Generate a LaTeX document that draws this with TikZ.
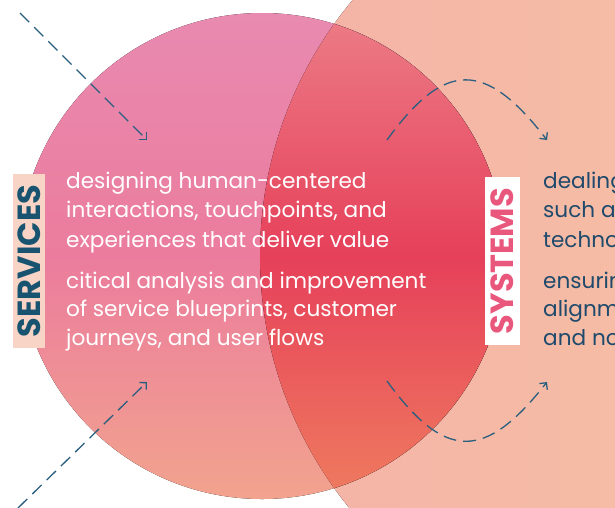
\documentclass[tikz,border=0pt]{standalone}
\usepackage{fontspec}
\setmainfont{Poppins}
\usetikzlibrary{arrows.meta}
\definecolor{peachL}{HTML}{F4B3A8}
\definecolor{peachR}{HTML}{F8C7A1}
\definecolor{pinkT}{HTML}{E98AB0}
\definecolor{pinkM}{HTML}{EB7C9D}
\definecolor{pinkB}{HTML}{F2A38E}
\definecolor{lensT}{HTML}{EC7C86}
\definecolor{lensM}{HTML}{E6405A}
\definecolor{lensB}{HTML}{EF7B5F}
\definecolor{dashc}{HTML}{2A5F80}
\definecolor{navy}{HTML}{1F4A6C}
\definecolor{tealtxt}{HTML}{18546F}
\definecolor{servbg}{HTML}{F7D4C6}
\definecolor{systxt}{HTML}{E9577D}
\tikzset{
  txt/.style={anchor=base west, inner sep=0pt, font=\fontsize{21.6}{26}\selectfont, text=white},
  rtxt/.style={txt, text=navy},
  dasharrow/.style={draw=dashc, line width=1.3pt, dash pattern=on 13pt off 7pt, -{Straight Barb[length=5pt,width=10pt,line width=1.3pt]}},
  label/.style={rotate=90, inner sep=0pt, font=\bfseries\fontsize{32}{32}\selectfont},
  peachfill/.style={left color=peachL, right color=peachR},
  pinkfill/.style={top color=pinkT, bottom color=pinkB, middle color=pinkM},
  lensfill/.style={top color=lensT, bottom color=lensB, middle color=lensM}
}
\begin{document}
\begin{tikzpicture}[x=1pt,y=-1pt]
\useasboundingbox (0,0) rectangle (615,507);
\clip (0,0) rectangle (615,507);
\fill[white] (0,0) rectangle (615,507);
% peach circle
\fill[peachfill] (660,256) circle [radius=400pt];
% pink circle
\fill[pinkfill] (262,256) circle [radius=243pt];
% overlap
\begin{scope}
\clip (660,256) circle [radius=400pt];
\fill[lensfill] (262,256) circle [radius=243pt];
\end{scope}
% labels
\node[label, fill=servbg, text=tealtxt, minimum width=174pt, minimum height=32pt] (services) at (29,261) {SERVICES};
\node[label, fill=white, text=systxt, minimum width=168pt, minimum height=35pt] (systems) at (502.5,261) {SYSTEMS};
% left text
\node[txt] (l1) at (66,188) {designing human-centered};
\node[txt] (l2) at (66,217.5) {interactions, touchpoints, and};
\node[txt] (l3) at (66,247) {experiences that deliver value};
\node[txt] (l4) at (66,288) {citical analysis and improvement};
\node[txt] (l5) at (66,316.5) {of service blueprints, customer};
\node[txt] (l6) at (66,345) {journeys, and user flows};
% right text
\node[rtxt] (r1) at (543,188) {dealing};
\node[rtxt] (r2) at (543,217.5) {such a};
\node[rtxt] (r3) at (543,247) {techno};
\node[rtxt] (r4) at (543,288) {ensuring};
\node[rtxt] (r5) at (543,316.5) {alignm};
\node[rtxt] (r6) at (543,345) {and no};
% arrows
\coordinate (a1s) at (20,13);
\coordinate (a1e) at (147,140);
\coordinate (a2s) at (18,508);
\coordinate (a2e) at (147,382);
\coordinate (c1s) at (387,140);
\coordinate (c1e) at (547,140);
\coordinate (c2s) at (387,381);
\coordinate (c2e) at (547,382);
\draw[dasharrow] (a1s) -- (a1e);
\draw[dasharrow] (a2s) -- (a2e);
\draw[dasharrow] (c1s) .. controls (445,60) and (485,60) .. (c1e);
\draw[dasharrow] (c2s) .. controls (445,461) and (485,461) .. (c2e);
\end{tikzpicture}
\end{document}
